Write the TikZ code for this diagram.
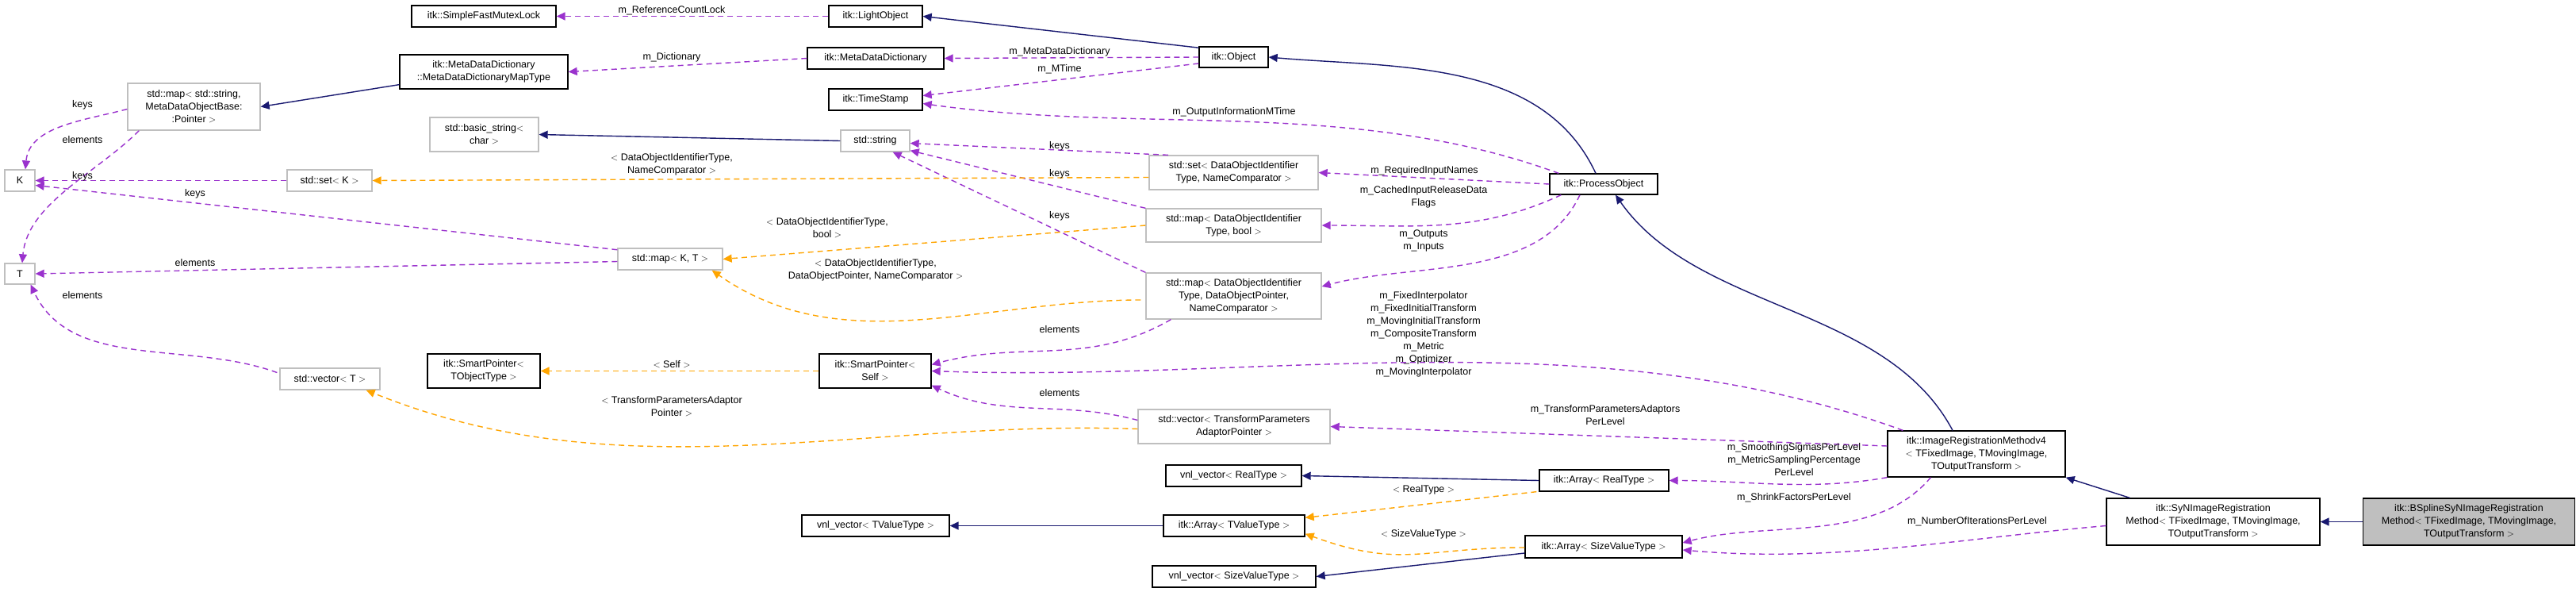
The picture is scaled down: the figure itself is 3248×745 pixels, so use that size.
\documentclass[tikz,border=0pt]{standalone}
\usepackage{fontspec}
\setmainfont{Liberation Sans}
\usetikzlibrary{calc,arrows.meta}
\definecolor{navy}{HTML}{191970}
\definecolor{usecol}{HTML}{9A32CD}
\definecolor{tplcol}{HTML}{FFA500}
\definecolor{greyb}{HTML}{BFBFBF}
\begin{document}
\begin{tikzpicture}[x=1pt,y=1pt,
  every node/.style={font=\fontsize{12.5}{16}\selectfont},
  cls/.style={draw=black,line width=1.3pt,fill=white,align=center,inner sep=2pt},
  ucls/.style={draw=greyb,line width=1.3pt,fill=white,align=center,inner sep=2pt},
  lbl/.style={align=center,inner sep=1pt},
  tip/.style={-{Triangle[length=11pt,width=10pt]}},
  inh/.style={tip,draw=navy,line width=1.4pt},
  use/.style={tip,draw=usecol,line width=1.4pt,dash pattern=on 7pt off 5pt},
  tpl/.style={tip,draw=tplcol,line width=1.4pt,dash pattern=on 7pt off 5pt}]
\useasboundingbox (0,0) rectangle (3248,-745);
\fill[white] (0,0) rectangle (3248,-745);
% nodes
\node[cls,minimum width=182,minimum height=27] (mutex) at (610,-20.5) {itk::SimpleFastMutexLock};
\node[cls,minimum width=118,minimum height=27] (lightobj) at (1104,-20.5) {itk::LightObject};
\node[cls,minimum width=212,minimum height=43] (mddmap) at (610,-90.5) {itk::MetaDataDictionary\\::MetaDataDictionaryMapType};
\node[cls,minimum width=172,minimum height=27] (mdd) at (1104,-73.5) {itk::MetaDataDictionary};
\node[cls,minimum width=87,minimum height=26] (object) at (1555.5,-72) {itk::Object};
\node[ucls,minimum width=167,minimum height=59] (stdmapstr) at (244.5,-134.5) {std::map$<$ std::string,\\ MetaDataObjectBase:\\:Pointer $>$};
\node[cls,minimum width=118,minimum height=27] (timestamp) at (1104,-125.5) {itk::TimeStamp};
\node[ucls,minimum width=137,minimum height=43] (basicstr) at (610.5,-169.5) {std::basic\_string$<$\\ char $>$};
\node[ucls,minimum width=87,minimum height=27] (stdstring) at (1103.5,-177.5) {std::string};
\node[ucls,minimum width=213,minimum height=43] (setDOI) at (1555.5,-217.5) {std::set$<$ DataObjectIdentifier\\Type, NameComparator $>$};
\node[cls,minimum width=136,minimum height=26] (procobj) at (2022,-232) {itk::ProcessObject};
\node[ucls,minimum width=38,minimum height=27] (K) at (25,-227.5) {K};
\node[ucls,minimum width=107,minimum height=27] (setK) at (415.5,-227.5) {std::set$<$ K $>$};
\node[ucls,minimum width=221,minimum height=42] (mapbool) at (1555.5,-284) {std::map$<$ DataObjectIdentifier\\Type, bool $>$};
\node[ucls,minimum width=132,minimum height=27] (mapKT) at (845,-326.5) {std::map$<$ K, T $>$};
\node[ucls,minimum width=38,minimum height=26] (T) at (25,-345) {T};
\node[ucls,minimum width=221,minimum height=58] (mapDOP) at (1555.5,-373) {std::map$<$ DataObjectIdentifier\\Type, DataObjectPointer,\\ NameComparator $>$};
\node[ucls,minimum width=126,minimum height=27] (vectorT) at (416,-477.5) {std::vector$<$ T $>$};
\node[cls,minimum width=142,minimum height=43] (SPT) at (610,-467.5) {itk::SmartPointer$<$\\ TObjectType $>$};
\node[cls,minimum width=141,minimum height=43] (SPS) at (1103.5,-467.5) {itk::SmartPointer$<$\\ Self $>$};
\node[ucls,minimum width=242,minimum height=43] (vecTPAP) at (1556,-537.5) {std::vector$<$ TransformParameters\\AdaptorPointer $>$};
\node[cls,minimum width=224,minimum height=58] (irm) at (2492,-572) {itk::ImageRegistrationMethodv4\\$<$ TFixedImage, TMovingImage,\\ TOutputTransform $>$};
\node[cls,minimum width=171,minimum height=27] (vnlReal) at (1555.5,-599.5) {vnl\_vector$<$ RealType $>$};
\node[cls,minimum width=163,minimum height=27] (arrReal) at (2022.5,-605.5) {itk::Array$<$ RealType $>$};
\node[cls,minimum width=186,minimum height=27] (vnlTV) at (1104,-662.5) {vnl\_vector$<$ TValueType $>$};
\node[cls,minimum width=178,minimum height=27] (arrTV) at (1556,-662.5) {itk::Array$<$ TValueType $>$};
\node[cls,minimum width=198,minimum height=28] (arrSV) at (2022,-689) {itk::Array$<$ SizeValueType $>$};
\node[cls,minimum width=269,minimum height=59] (syn) at (2790.5,-657.5) {itk::SyNImageRegistration\\Method$<$ TFixedImage, TMovingImage,\\ TOutputTransform $>$};
\node[cls,minimum width=206,minimum height=27] (vnlSV) at (1556,-726.5) {vnl\_vector$<$ SizeValueType $>$};
\node[cls,fill=greyb,minimum width=267,minimum height=59] (bspline) at (3113,-657.5) {itk::BSplineSyNImageRegistration\\Method$<$ TFixedImage, TMovingImage,\\ TOutputTransform $>$};
% inheritance
\draw[inh] (object.165) -- (lightobj.east);
\draw[inh] ($(procobj.north)+(-10,0)$) .. controls +(115:160) and +(-5:160) .. (object.east);
\draw[inh] ($(irm.north)+(-30,0)$) .. controls +(118:180) and +(-55:180) .. ($(procobj.south)+(15,0)$);
\draw[inh] ($(syn.north west)+(30,0)$) -- (irm.south east);
\draw[inh] (bspline.west) -- (syn.east);
\draw[inh] ($(mddmap.south west)+(0,6)$) -- (stdmapstr.east);
\draw[inh] (stdstring.west) -- (basicstr.east);
\draw[inh] (arrReal.west) -- (vnlReal.east);
\draw[inh] (arrTV.west) -- (vnlTV.east);
\draw[inh] ($(arrSV.west)+(0,-8)$) -- (vnlSV.east);
% usage
\draw[use] (lightobj.west) -- (mutex.east);
\draw[use] (object.west) -- (mdd.east);
\draw[use] (mdd.west) -- (mddmap.east);
\draw[use] ($(object.west)+(0,-8)$) -- ($(timestamp.east)+(0,5)$);
\draw[use] ($(procobj.north west)+(12,0)$) .. controls +(160:280) and +(-8:280) .. ($(timestamp.east)+(0,-5)$);
\draw[use] ($(stdmapstr.west)+(0,-3)$) .. controls +(195:55) and +(85:55) .. ($(K.north)+(7,0)$);
\draw[use] ($(stdmapstr.south west)+(15,0)$) .. controls +(225:75) and +(85:75) .. ($(T.north)+(3,0)$);
\draw[use] (setK.west) -- (K.east);
\draw[use] (mapKT.170) -- ($(K.east)+(0,-6)$);
\draw[use] ($(mapKT.west)+(0,-3)$) -- (T.east);
\draw[use] ($(vectorT.west)+(-3,8)$) .. controls +(160:120) and +(-65:120) .. ($(T.south east)+(-6,0)$);
\draw[use] (setDOI.165) -- ($(stdstring.east)+(0,-3)$);
\draw[use] (mapbool.north west) -- ($(stdstring.south east)+(0,2)$);
\draw[use] (mapDOP.north west) -- ($(stdstring.south east)+(-22,0)$);
\draw[use] (procobj.west) -- (setDOI.east);
\draw[use] ($(procobj.south west)+(15,0)$) .. controls +(-155:115) and +(0:115) .. (mapbool.east);
\draw[use] ($(procobj.south)+(-30,0)$) .. controls +(-115:120) and +(15:120) .. ($(mapDOP.east)+(0,12)$);
\draw[use] ($(mapDOP.south west)+(32,0)$) .. controls +(-150:120) and +(15:120) .. ($(SPS.east)+(0,8)$);
\draw[use] ($(vecTPAP.west)+(0,8)$) .. controls +(165:100) and +(-25:100) .. ($(SPS.south east)+(0,4)$);
\draw[use] ($(irm.north west)+(20,0)$) .. controls +(160:420) and +(-2:420) .. (SPS.east);
\draw[use] ($(irm.west)+(0,10)$) -- (vecTPAP.east);
\draw[use] (irm.south west) .. controls +(190:100) and +(0:100) .. (arrReal.east);
\draw[use] ($(irm.south west)+(55,0)$) .. controls +(-130:110) and +(15:110) .. ($(arrSV.east)+(0,5)$);
\draw[use] ($(syn.west)+(0,-5)$) .. controls +(185:190) and +(-5:190) .. ($(arrSV.east)+(0,-4)$);
% templates
\draw[tpl] ($(setDOI.west)+(0,-6)$) -- (setK.east);
\draw[tpl] (mapbool.west) -- (mapKT.east);
\draw[tpl] ($(mapDOP.west)+(-6,-5)$) .. controls +(180:200) and +(-35:200) .. ($(mapKT.south east)+(-14,0)$);
\draw[tpl] (SPS.west) -- (SPT.east);
\draw[tpl] ($(vecTPAP.west)+(0,-3)$) .. controls +(178:350) and +(-22:350) .. ($(vectorT.south east)+(-18,0)$);
\draw[tpl] ($(arrReal.south west)+(-3,0)$) -- ($(arrTV.north east)+(0,-4)$);
\draw[tpl] ($(arrSV.west)+(0,-1)$) .. controls +(180:130) and +(-20:130) .. ($(arrTV.south east)+(0,4)$);
% labels
\node[lbl] (l1) at (847,-13) {m\_ReferenceCountLock};
\node[lbl] (l2) at (847,-72) {m\_Dictionary};
\node[lbl] (l3) at (104,-132) {keys};
\node[lbl] (l4) at (104,-176) {elements};
\node[lbl] (l5) at (104,-222) {keys};
\node[lbl] (l6) at (246,-244) {keys};
\node[lbl] (l7) at (246,-331) {elements};
\node[lbl] (l8) at (104,-372) {elements};
\node[lbl] (l9) at (847,-207) {$<$ DataObjectIdentifierType,\\NameComparator $>$};
\node[lbl] (l10) at (1043,-287) {$<$ DataObjectIdentifierType,\\bool $>$};
\node[lbl] (l11) at (1104,-340) {$<$ DataObjectIdentifierType,\\DataObjectPointer, NameComparator $>$};
\node[lbl] (l12) at (1336,-65) {m\_MetaDataDictionary};
\node[lbl] (l13) at (1336,-87) {m\_MTime};
\node[lbl] (l14) at (1556,-141) {m\_OutputInformationMTime};
\node[lbl] (l15) at (1336,-184) {keys};
\node[lbl] (l16) at (1336,-219) {keys};
\node[lbl] (l17) at (1336,-272) {keys};
\node[lbl] (l18) at (1796,-215) {m\_RequiredInputNames};
\node[lbl] (l19) at (1795,-248) {m\_CachedInputReleaseData\\Flags};
\node[lbl] (l20) at (1795,-303) {m\_Outputs\\m\_Inputs};
\node[lbl] (l21) at (1795,-421) {m\_FixedInterpolator\\m\_FixedInitialTransform\\m\_MovingInitialTransform\\m\_CompositeTransform\\m\_Metric\\m\_Optimizer\\m\_MovingInterpolator};
\node[lbl] (l22) at (1336,-415) {elements};
\node[lbl] (l23) at (1336,-495) {elements};
\node[lbl] (l24) at (847,-459) {$<$ Self $>$};
\node[lbl] (l25) at (847,-512) {$<$ TransformParametersAdaptor\\Pointer $>$};
\node[lbl] (l26) at (2024,-523) {m\_TransformParametersAdaptors\\PerLevel};
\node[lbl] (l27) at (2262,-579) {m\_SmoothingSigmasPerLevel\\m\_MetricSamplingPercentage\\PerLevel};
\node[lbl] (l28) at (2262,-627) {m\_ShrinkFactorsPerLevel};
\node[lbl] (l29) at (2493,-657) {m\_NumberOfIterationsPerLevel};
\node[lbl] (l30) at (1795,-617) {$<$ RealType $>$};
\node[lbl] (l31) at (1795,-673) {$<$ SizeValueType $>$};
\end{tikzpicture}
\end{document}
